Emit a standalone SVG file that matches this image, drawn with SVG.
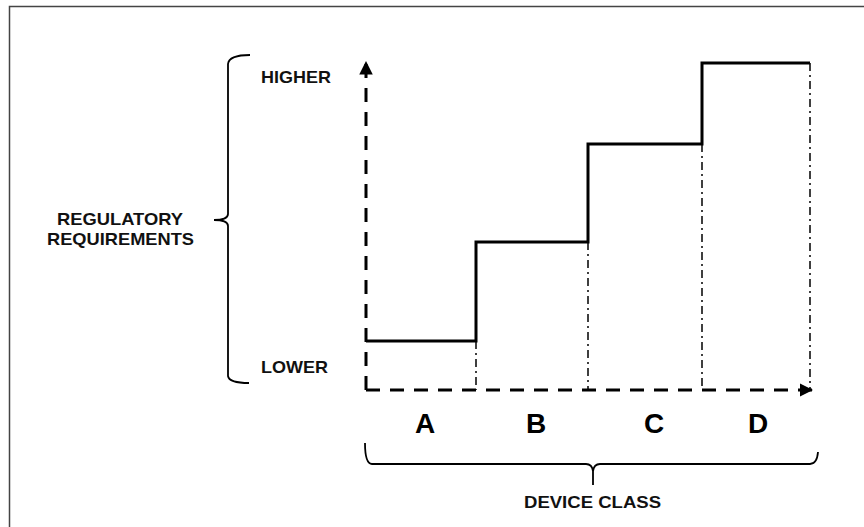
<svg xmlns="http://www.w3.org/2000/svg" width="864" height="527" viewBox="0 0 864 527">
<style>
.lbl{font-family:"Liberation Sans",Arial,sans-serif;font-weight:bold;font-size:17px;fill:#111}
.big{font-family:"Liberation Sans",Arial,sans-serif;font-weight:bold;font-size:28px;fill:#000}
.axis{stroke:#000;stroke-width:3;stroke-dasharray:14,10;fill:none}
.step{stroke:#000;stroke-width:3;fill:none}
.dd{stroke:#000;stroke-width:1.5;stroke-dasharray:8,4,2,4;fill:none}
.br{stroke:#000;stroke-width:1.8;fill:none}
</style>
<defs>
<marker id="ah" viewBox="0 0 10 10" refX="10" refY="5" markerWidth="4.5" markerHeight="4.5" orient="auto" markerUnits="strokeWidth">
<path d="M0,0 L10,5 L0,10 z" fill="#000"/>
</marker>
</defs>
<rect width="864" height="527" fill="#fff"/>
<path d="M9.5,527 V6.5 H864" stroke="#444" stroke-width="1.5" fill="none"/>
<g id="connectors">
<line class="axis" x1="366" y1="390" x2="366" y2="61" marker-end="url(#ah)"/>
<line class="axis" x1="366" y1="390" x2="813" y2="390" marker-end="url(#ah)"/>
<path class="step" d="M366,341 H476 V242 H588 V144 H702 V63 H810"/>
<line class="dd" x1="476" y1="341" x2="476" y2="390"/>
<line class="dd" x1="588" y1="242" x2="588" y2="390"/>
<line class="dd" x1="702" y1="144" x2="702" y2="390"/>
<line class="dd" x1="810" y1="63" x2="810" y2="390"/>
</g>
<g id="left-bracket">
<path class="br" d="M250,55 Q229,55 228,64 V214 Q228,220 214,220 Q228,220 228,226 V376 Q229,383 249,383"/>
</g>
<g id="bottom-brace">
<path class="br" d="M365,443 Q365,464 372,464 H586 Q592,464 593,471 V485 M593,471 Q594,464 600,464 H810 Q817,464 818,452"/>
</g>
<g id="label-higher"><text class="lbl" x="261" y="83" textLength="70" lengthAdjust="spacingAndGlyphs">HIGHER</text></g>
<g id="label-lower"><text class="lbl" x="261" y="373" textLength="67" lengthAdjust="spacingAndGlyphs">LOWER</text></g>
<g id="label-reg">
<text class="lbl" x="57" y="225" textLength="126" lengthAdjust="spacingAndGlyphs">REGULATORY</text>
<text class="lbl" x="47" y="245" textLength="147" lengthAdjust="spacingAndGlyphs">REQUIREMENTS</text>
</g>
<g id="class-a"><text class="big" x="425" y="433" text-anchor="middle">A</text></g>
<g id="class-b"><text class="big" x="536" y="433" text-anchor="middle">B</text></g>
<g id="class-c"><text class="big" x="654" y="433" text-anchor="middle">C</text></g>
<g id="class-d"><text class="big" x="758" y="433" text-anchor="middle">D</text></g>
<g id="label-device"><text class="lbl" x="524" y="508" textLength="137" lengthAdjust="spacingAndGlyphs">DEVICE CLASS</text></g>
</svg>
